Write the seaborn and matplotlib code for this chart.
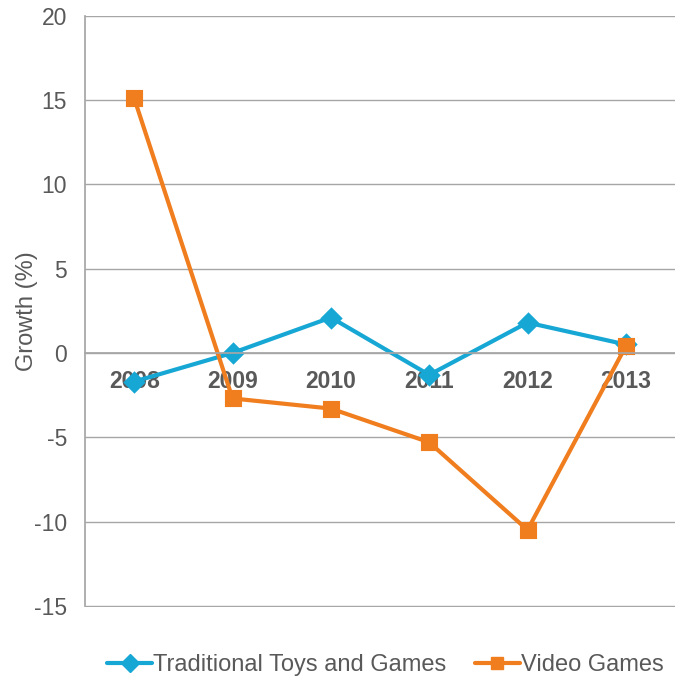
import matplotlib
matplotlib.use("Agg")
import matplotlib.pyplot as plt
from matplotlib.lines import Line2D
import pandas as pd
import seaborn as sns

years = ["2008", "2009", "2010", "2011", "2012", "2013"]
traditional = [-1.7, 0.0, 2.1, -1.3, 1.8, 0.5]
video = [15.1, -2.7, -3.3, -5.3, -10.5, 0.4]
series_names = ["Traditional Toys and Games", "Video Games"]
y_ticks = [-15, -10, -5, 0, 5, 10, 15, 20]

BLUE = "#17a7d4"
ORANGE = "#f07d1e"
GREY_TEXT = "#595959"
GRID = "#a6a6a6"

sns.set_theme(style="white")
plt.rcParams["font.family"] = ["Liberation Sans", "DejaVu Sans"]

df = pd.DataFrame({
    "Year": years * 2,
    "Growth": traditional + video,
    "Series": [series_names[0]] * len(years) + [series_names[1]] * len(years),
})

fig = plt.figure(figsize=(6.75, 6.83), dpi=100)
ax = fig.add_axes([0.126, 0.111, 0.874, 0.866])

sns.pointplot(
    data=df, x="Year", y="Growth", hue="Series", order=years,
    hue_order=series_names, palette=[BLUE, ORANGE], markers=["D", "s"],
    linestyles=["-", "-"], markersize=9.5, linewidth=3, legend=False, ax=ax,
    errorbar=None,
)

ax.set_xlim(-0.5, len(years) - 0.5)
ax.set_ylim(-15.08, 20)
ax.set_yticks(y_ticks)
ax.set_yticklabels([str(t) for t in y_ticks], fontsize=16.5, color=GREY_TEXT)
ax.yaxis.grid(True, color=GRID, linewidth=1)
ax.set_axisbelow(True)

# category axis runs along the zero line
ax.spines["bottom"].set_position(("data", 0))
ax.spines["bottom"].set_color(GRID)
ax.spines["left"].set_color(GRID)
ax.spines["left"].set_bounds(-15, 20)
ax.spines["top"].set_visible(False)
ax.spines["right"].set_visible(False)
ax.set_xticks(range(len(years)))
ax.set_xticklabels(years, fontsize=16.5, fontweight="bold", color=GREY_TEXT)
ax.set_xticks([i + 0.5 for i in range(len(years) - 1)], minor=True)
ax.tick_params(axis="x", which="major", length=0, pad=12)
ax.tick_params(axis="x", which="minor", length=5, color=GRID, direction="out")
ax.tick_params(axis="y", length=6, color=GRID, direction="out", pad=7)
for lab in ax.get_xticklabels():
    lab.set_zorder(5)

ax.set_xlabel("")
ax.set_ylabel("Growth (%)", fontsize=17, color=GREY_TEXT, labelpad=-3)

handles = [
    Line2D([], [], color=BLUE, marker="D", markersize=9, linewidth=3),
    Line2D([], [], color=ORANGE, marker="s", markersize=9, linewidth=3),
]
fig.legend(handles, series_names, loc="center", bbox_to_anchor=(0.571, 0.026),
           ncol=2, frameon=False, fontsize=17, handlelength=1.9,
           handletextpad=0.05, columnspacing=1.2, labelcolor=GREY_TEXT)

fig.savefig("out.png", dpi=100)
